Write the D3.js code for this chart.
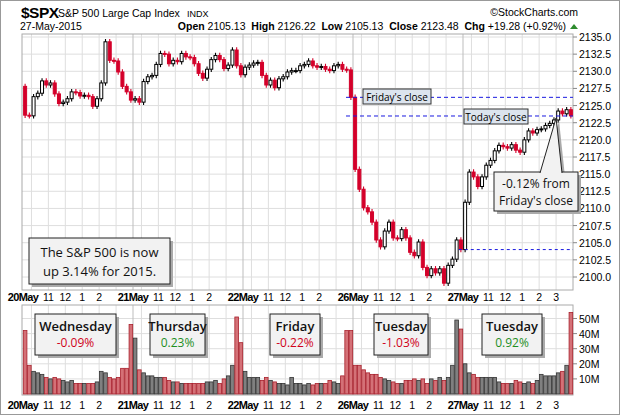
<!DOCTYPE html>
<html><head><meta charset="utf-8">
<script src="https://cdn.jsdelivr.net/npm/d3@7"></script>
<style>
body{margin:0;background:#fff;font-family:"Liberation Sans",Arial,sans-serif}
svg text{fill:#000}
</style></head>
<body><svg id="chart" width="620" height="415"></svg>
<script>
// trading days and hour ticks
const days = ['20May', '21May', '22May', '26May', '27May'];
const hourLabels = ['11', '12', '1', '2', '3'];
const hourOffsets = [1.5, 2.5, 3.5, 4.5, 5.5];   // hours after 9:30 open
const priceTicks = [2100, 2102.5, 2105, 2107.5, 2110, 2112.5, 2115, 2117.5, 2120, 2122.5, 2125, 2127.5, 2130, 2132.5, 2135];
const volTicks = [10, 20, 30, 40, 50];

// 15-minute closes, 26 per day
const firstOpen = 2127.8;
const closes = [
  2123.6, 2123.5, 2126.3, 2126.8, 2128.6, 2128.0, 2128.3, 2126.7, 2125.3, 2125.5, 2126.0, 2127.0, 2126.9,
  2126.4, 2126.5, 2126.3, 2124.9, 2126.0, 2128.3, 2134.3, 2131.6, 2131.5, 2129.9, 2127.8, 2127.0, 2125.8,
  2126.0, 2125.5, 2128.5, 2129.2, 2129.4, 2131.0, 2132.6, 2132.5, 2131.1, 2131.6, 2131.4, 2132.6, 2132.1,
  2132.0, 2131.1, 2129.7, 2129.0, 2130.3, 2131.7, 2132.3, 2131.7, 2130.4, 2130.9, 2133.1, 2130.8, 2129.5,
  2130.6, 2130.9, 2131.2, 2131.3, 2129.4, 2128.0, 2128.7, 2127.6, 2128.9, 2129.2, 2129.9, 2130.1, 2130.1,
  2130.8, 2131.0, 2131.5, 2130.8, 2130.6, 2130.7, 2130.3, 2130.1, 2130.8, 2131.0, 2130.3, 2130.2, 2126.2,
  2115.7, 2112.8, 2110.1, 2109.5, 2108.0, 2105.4, 2104.4, 2106.7, 2108.0, 2105.7, 2105.6, 2106.9, 2105.7,
  2103.6, 2103.1, 2105.1, 2101.4, 2100.2, 2101.2, 2100.6, 2101.2, 2099.1, 2101.7, 2102.6, 2105.4, 2104.0,
  2110.9, 2115.3, 2114.6, 2113.2, 2114.6, 2116.3, 2117.0, 2118.4, 2119.2, 2119.0, 2118.8, 2119.3, 2118.5,
  2118.2, 2120.0, 2121.3, 2121.0, 2121.5, 2121.6, 2122.1, 2122.4, 2122.9, 2124.2, 2123.8, 2124.4, 2123.5
];
const wick = 0.4;
// volume in millions
const volumes = [
  42, 19, 15, 14, 13, 11, 10, 11, 10, 9, 8, 9, 7, 7, 7, 7, 7, 8, 15, 14, 11, 10, 11, 17, 17, 46,
  37, 16, 14, 12, 12, 11, 11, 11, 9, 8, 8, 7, 7, 7, 7, 7, 7, 8, 8, 9, 7, 10, 12, 19, 51, 34,
  15, 11, 11, 11, 9, 11, 9, 8, 7, 7, 6, 11, 7, 7, 6, 7, 6, 7, 7, 7, 9, 8, 7, 12, 42, 42,
  19, 19, 16, 14, 13, 13, 11, 10, 9, 8, 7, 7, 9, 9, 10, 9, 10, 7, 10, 9, 11, 9, 11, 19, 49, 43,
  20, 14, 13, 11, 11, 11, 11, 11, 8, 7, 7, 7, 9, 8, 7, 8, 7, 9, 13, 12, 12, 12, 14, 15, 19, 54
];
const dayNames = ['Wednesday', 'Thursday', 'Friday', 'Tuesday', 'Tuesday'];
const dayChanges = ['-0.09%', '0.23%', '-0.22%', '-1.03%', '0.92%'];
const fridayClose = 2126.2, todayClose = 2123.48, mondayClose = 2104.0;

const svg = d3.select('#chart');
const RED = '#d4002a';
const L = 22, R = 573;
const barsPerDay = 26;

const x = d3.scaleLinear().domain([0, days.length * barsPerDay]).range([L + 1, R]);
const y = d3.scaleLinear().domain([2100, 2135]).range([277, 37]);
const yv = d3.scaleLinear().domain([0, 50]).range([394, 318.5]);

svg.append('rect').attr('x', 0.5).attr('y', 0.5).attr('width', 619).attr('height', 414)
  .attr('fill', 'none').attr('stroke', '#999');

// HEADER
svg.append('text').attr('x', 21).attr('y', 18).attr('font-size', 15.5).attr('font-weight', 'bold')
  .attr('letter-spacing', -0.5).text('$SPX');
svg.append('text').attr('x', 58).attr('y', 17).attr('font-size', 10.5).text('S&P 500 Large Cap Index');
svg.append('text').attr('x', 187).attr('y', 17).attr('font-size', 9).text('INDX');
svg.append('text').attr('x', 578).attr('y', 16).attr('font-size', 10.5).attr('text-anchor', 'end').attr('fill', '#333').text('©StockCharts.com');
svg.append('text').attr('x', 20).attr('y', 30).attr('font-size', 10.5).text('27-May-2015');
const hdr = svg.append('text').attr('x', 566).attr('y', 30).attr('font-size', 10.5).attr('text-anchor', 'end');
[['Open', ' 2105.13  '], ['High', ' 2126.22  '], ['Low', ' 2105.13  '], ['Close', ' 2123.48  '], ['Chg', ' +19.28 (+0.92%)']]
  .forEach(([k, v]) => {
    hdr.append('tspan').attr('font-weight', 'bold').text(k);
    hdr.append('tspan').attr('xml:space', 'preserve').text(v);
  });
svg.append('path').attr('d', 'M570,29 L574,24 L578,29 Z').attr('fill', '#2e8b2e');

// panels + grids
function panel(top, bottom, ticks, yscale, fmt) {
  const g = svg.append('g');
  g.selectAll('.hg').data(ticks).join('line')
    .attr('x1', L).attr('x2', R).attr('y1', d => yscale(d)).attr('y2', d => yscale(d))
    .attr('stroke', '#dedede');
  const vlines = [];
  days.forEach((d, i) => {
    for (let h = 0.5; h < 6.5; h += 1) vlines.push({ x: x(i * barsPerDay + h * 4), day: false });
    if (i > 0) vlines.push({ x: x(i * barsPerDay), day: true });
  });
  g.selectAll('.vg').data(vlines).join('line')
    .attr('x1', d => d.x).attr('x2', d => d.x).attr('y1', top).attr('y2', bottom)
    .attr('stroke', d => d.day ? '#bdbdbd' : '#dedede');
  g.append('rect').attr('x', L).attr('y', top).attr('width', R - L).attr('height', bottom - top)
    .attr('fill', 'none').attr('stroke', '#aaa');
  g.selectAll('.yl').data(ticks).join('text')
    .attr('x', R + 6).attr('y', d => yscale(d) + 4).attr('font-size', 10.5).attr('fill', '#222')
    .text(fmt);
  g.selectAll('.yt').data(ticks).join('line')
    .attr('x1', R).attr('x2', R + 4).attr('y1', d => yscale(d)).attr('y2', d => yscale(d)).attr('stroke', '#888');
}
panel(34, 290, priceTicks, y, d => d.toFixed(1));
panel(305, 395, volTicks, yv, d => d + 'M');

function xLabels(ty) {
  days.forEach((d, i) => {
    svg.append('text').attr('x', x(i * barsPerDay)).attr('y', ty).attr('font-size', 11)
      .attr('font-weight', 'bold').attr('text-anchor', 'middle').attr('letter-spacing', -0.6).text(d);
    hourLabels.forEach((h, j) => {
      if (j === 4 && i < days.length - 1) return;
      svg.append('text').attr('x', x(i * barsPerDay + hourOffsets[j] * 4)).attr('y', ty)
        .attr('font-size', 10.5).attr('text-anchor', 'middle').text(h);
    });
  });
}
xLabels(301);
xLabels(409);

// candles
const bars = closes.map((c, i) => {
  const o = i === 0 ? firstOpen : closes[i - 1];
  return { i, o, c, h: Math.max(o, c) + wick, l: Math.min(o, c) - wick, up: c >= o, v: volumes[i] };
});
const bw = 3;
const cg = svg.append('g');
cg.selectAll('.wk').data(bars).join('line')
  .attr('x1', d => x(d.i + 0.5)).attr('x2', d => x(d.i + 0.5))
  .attr('y1', d => y(d.h)).attr('y2', d => y(d.l))
  .attr('stroke', d => d.up ? '#000' : RED).attr('stroke-width', 1.1);
cg.selectAll('.bd').data(bars).join('rect')
  .attr('x', d => x(d.i + 0.5) - bw / 2)
  .attr('y', d => y(Math.max(d.o, d.c)))
  .attr('width', bw)
  .attr('height', d => Math.max(1, Math.abs(y(d.o) - y(d.c))))
  .attr('fill', d => d.up ? '#fff' : RED)
  .attr('stroke', d => d.up ? '#000' : RED).attr('stroke-width', 1);

// volume bars
svg.append('g').selectAll('rect').data(bars).join('rect')
  .attr('x', d => x(d.i) + 0.3).attr('width', x(1) - x(0) - 0.6)
  .attr('y', d => yv(d.v)).attr('height', d => yv(0) - yv(d.v))
  .attr('fill', d => d.up ? '#808080' : '#d47177')
  .attr('stroke', d => d.up ? '#333' : '#a8202c').attr('stroke-width', 0.8);

// reference lines
function dashed(v, x1) {
  svg.append('line').attr('x1', x1).attr('x2', R).attr('y1', y(v)).attr('y2', y(v))
    .attr('stroke', '#1a1ae0').attr('stroke-dasharray', '4,3').attr('stroke-width', 1);
}
dashed(fridayClose, 346);
dashed(todayClose, 346);
svg.append('line').attr('x1', x(4 * barsPerDay - 1)).attr('x2', R).attr('y1', y(mondayClose)).attr('y2', y(mondayClose))
  .attr('stroke', '#1a1ae0').attr('stroke-dasharray', '3,3');

function tag(x0, y0, w, t) {
  svg.append('rect').attr('x', x0).attr('y', y0).attr('width', w).attr('height', 15)
    .attr('fill', '#dce4ee').attr('stroke', '#333');
  svg.append('text').attr('x', x0 + w / 2).attr('y', y0 + 11.5).attr('text-anchor', 'middle')
    .attr('font-family', 'Open Sans').attr('font-size', 10).text(t);
}
tag(363, 89, 68, "Friday's close");
tag(464, 109, 64, "Today's close");

function box(x0, y0, w, h, lines, size) {
  svg.append('rect').attr('x', x0 + 3).attr('y', y0 + 3).attr('width', w).attr('height', h).attr('fill', '#aaa');
  svg.append('rect').attr('x', x0).attr('y', y0).attr('width', w).attr('height', h)
    .attr('fill', '#f2f2f2').attr('stroke', '#222');
  lines.forEach((l, k) => {
    svg.append('text').attr('x', x0 + w / 2).attr('y', y0 + l.dy).attr('text-anchor', 'middle')
      .attr('font-family', 'Open Sans').attr('font-size', l.size || size)
      .attr('font-weight', l.bold ? 600 : 500).style('fill', l.color || '#111').text(l.t);
  });
}
// callout with pointer
svg.append('path').attr('d', `M540,174 L${x(126)},118 L562,174 Z`).attr('fill', '#aaa').attr('transform', 'translate(3,3)');
box(494, 172, 84, 39, [{ t: '-0.12% from', dy: 16 }, { t: "Friday's close", dy: 33 }], 12);
svg.append('path').attr('d', `M540,173 L${x(126)},118 L562,173`).attr('fill', '#f2f2f2').attr('stroke', '#222');
svg.append('line').attr('x1', 541).attr('x2', 561).attr('y1', 172).attr('y2', 172).attr('stroke', '#f2f2f2').attr('stroke-width', 1.5);

box(29, 238, 141, 46, [{ t: 'The S&P 500 is now', dy: 19 }, { t: 'up 3.14% for 2015.', dy: 38 }], 13);

const volBoxes = [[35, 81], [150, 55], [270, 50], [374, 54], [482, 60]];
volBoxes.forEach(([bx, bwid], i) => {
  box(bx, 314, bwid, 41, [
    { t: dayNames[i], dy: 17, size: 13, bold: true },
    { t: dayChanges[i], dy: 33, size: 12, color: dayChanges[i][0] === '-' ? '#d0021b' : '#1f8f1f' }
  ], 13);
});
</script></body></html>
